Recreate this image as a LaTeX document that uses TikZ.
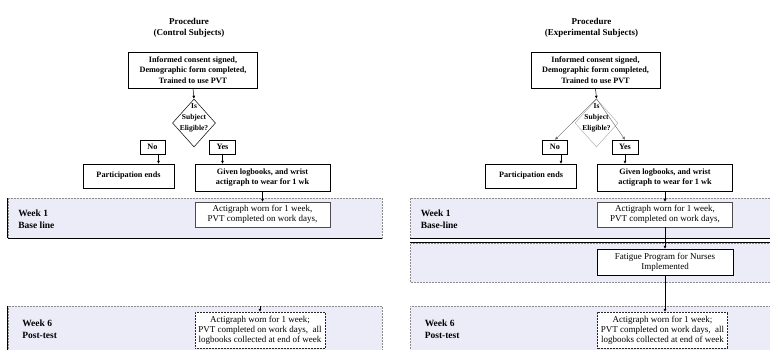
\documentclass[tikz,border=0pt]{standalone}
\usepackage{fontspec}
\setmainfont{Liberation Serif}
\usetikzlibrary{arrows.meta,shapes.geometric}
\definecolor{lav}{RGB}{236,236,248}
\tikzset{every picture/.style={line width=0.5pt}}
\tikzset{
  head/.style={align=center, font=\bfseries\fontsize{9}{11}\selectfont},
  box/.style={draw, fill=white, align=center, inner sep=1pt,
                font=\bfseries\fontsize{8.2}{10.5}\selectfont},
  plainbox/.style={box, draw=black!70, font=\fontsize{9}{10}\selectfont},
  decision/.style={diamond, draw=#1, minimum width=43pt, minimum height=48pt,
                inner sep=0pt},
  query/.style={align=center, inner sep=0pt,
                font=\bfseries\fontsize{7.5}{11}\selectfont},
  band/.style={draw=black!45, densely dotted, fill=lav, inner sep=0pt},
  edge/.style={solid, draw=black, line width=0.8pt},
  wklabel/.style={anchor=west, align=left, inner sep=0pt,
                font=\bfseries\fontsize{9.5}{12}\selectfont},
  arr/.style={solid, -{Latex[length=3pt,width=3pt]}},
}

\begin{document}
\begin{tikzpicture}[x=1pt, y=-1pt]
  \useasboundingbox (0,0) rectangle (770,349);
  \clip (0,0) rectangle (770,349);
  % same layout for both groups | right one shifted
  \foreach \s/\dx/\sub/\base/\dc in {l/0/Control/Base line/black,
                                    r/402.5/Experimental/Base-line/black!30} {
      \node[head] (\s-head) at (\dx+189,28) {Procedure\\(\sub\ Subjects)};
      \node[box, minimum width=129pt, minimum height=36pt] (\s-con) at (\dx+193,70)
        {Informed consent signed,\\Demographic form completed,\\Trained to use PVT};
      \node[decision=\dc, label={[query, yshift=5pt]center:Is\\Subject\\Eligible?}]
        (\s-dec) at (\dx+194,123) {};
      \node[box, minimum width=25pt, minimum height=14pt] (\s-no) at (\dx+152.5,147) {No};
      \node[box, minimum width=26pt, minimum height=14pt] (\s-yes) at (\dx+222.5,147) {Yes};
      \node[box, minimum width=91pt, minimum height=24pt] (\s-pe) at (\dx+128.5,176)
        {Participation ends};
      \node[box, minimum width=135pt, minimum height=27pt] (\s-given) at (\dx+262.5,177.5)
        {Given logbooks, and wrist\\actigraph to wear for 1 wk};
      % week 1
      \node[band, minimum width=374pt, minimum height=40pt] (\s-wk1) at (\dx+195,218) {};
      \node[wklabel] (\s-wk1lab) at (\dx+18,219.5) {Week 1\\\base};
      \node[plainbox, minimum width=135pt, minimum height=25pt] (\s-act) at (\dx+262.5,214.5)
        {Actigraph worn for 1 week,\\PVT completed on work days,};
      % week 6
      \node[band, minimum width=374pt, minimum height=50pt] (\s-wk6) at (\dx+195,331) {};
      \node[wklabel] (\s-wk6lab) at (\dx+22,329) {Week 6\\Post-test};
      \node[plainbox, densely dotted, draw=black!85, minimum width=130pt, minimum height=36pt]
        (\s-wk6box) at (\dx+260,330)
        {Actigraph worn for 1 week;\\PVT completed on work days,\ \ all\\logbooks collected at end of week};
      % connect
      \draw[arr] (\s-con.south) -- (\s-dec.north);
      \draw[arr] ([xshift=6pt]\s-no.south) -- ([xshift=6pt]\s-no.south |- \s-pe.north);
      \draw[arr] (\s-yes.south) -- (\s-yes.south |- \s-given.north);
      \draw[arr] (\s-given) -- (\s-act);
  };
  % solid band edges
  \draw[edge] (l-wk1.north west) -- (l-wk1.south west);
  \draw[edge] (l-wk1.south west) -- (l-wk1.south east);
  \draw[edge] (l-wk6.north west) -- (l-wk6.south west);
  \draw[edge] (r-wk1.south west) -- (r-wk1.south east);
  % experimental group only
  \draw[arr, black!60, line width=0.4pt] (r-dec.north) -- (r-no.north);
  \draw[arr, black!60, line width=0.4pt] (r-dec.north) -- (r-yes.north);
  \node[band, minimum width=374pt, minimum height=39pt] (r-prog) at (597.5,262.5) {};
  \draw[edge] (r-prog.north west) -- (r-prog.north east);
  \node[plainbox, draw=black, minimum width=136pt, minimum height=26pt] (r-fat) at (665,262)
    {Fatigue Program for Nurses\\Implemented};
  \draw[arr] (r-act) -- (r-fat);
  \draw[arr] (r-fat.south) -- (r-fat.south |- r-wk6box.north);
  \draw[arr] (l-wk6box.north |- l-wk6.north) -- (l-wk6box.north);
\end{tikzpicture}
\end{document}
